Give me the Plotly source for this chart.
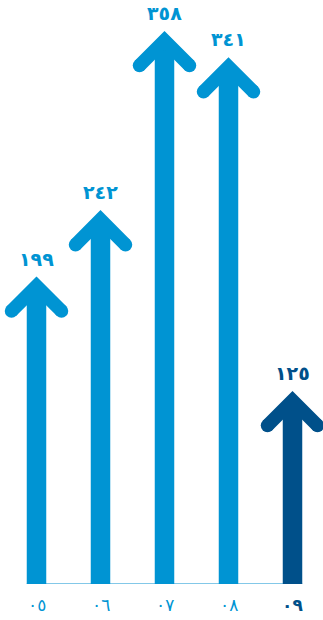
import math
import plotly.graph_objects as go

# ---- data ----
years = ["05", "06", "07", "08", "09"]
values = [199, 242, 358, 341, 125]
bar_colors = ["#0094D3", "#0094D3", "#0094D3", "#0094D3", "#00508A"]
highlight = [False, False, False, False, True]

AR = str.maketrans("0123456789", "٠١٢٣٤٥٦٧٨٩")
year_labels = [y.translate(AR) for y in years]
value_labels = [str(v).translate(AR) for v in values]

# ---- layout geometry (pixels) ----
W, H = 323, 620
BASE_PX = 584          # y pixel of the baseline
PX_PER_UNIT = 1.545    # vertical pixels per value unit
PX_PER_CAT = 64.0      # horizontal pixels per category
FIRST_CX = 36.5        # pixel centre of first arrow

x0 = -FIRST_CX / PX_PER_CAT
x1 = x0 + W / PX_PER_CAT
y_top = BASE_PX / PX_PER_UNIT

def dx(p):
    return p / PX_PER_CAT

def dy(p):  # p pixels downward -> data offset
    return -p / PX_PER_UNIT

SHAFT_W = 19.5
T = 13.5               # arm thickness
h = T / 2
A = 25.0               # horizontal half-extent of arm centre line
r2 = math.sqrt(2)

fig = go.Figure()

xs = list(range(len(values)))
for i, (v, c) in enumerate(zip(values, bar_colors)):
    shaft_top = v + dy(15)
    fig.add_trace(go.Bar(x=[i], y=[shaft_top], width=dx(SHAFT_W),
                         marker=dict(color=c, line=dict(width=0)),
                         hoverinfo="skip", showlegend=False))
    pts = [
        (0, 0),
        (-A - h / r2, h * r2 + A - h / r2),
        (-A + h / r2, h * r2 + A + h / r2),
        (0, 2 * h * r2),
        (A - h / r2, h * r2 + A + h / r2),
        (A + h / r2, h * r2 + A - h / r2),
        (0, 0),
    ]
    fig.add_trace(go.Scatter(
        x=[i + dx(px) for px, py in pts],
        y=[v + dy(py) for px, py in pts],
        mode="lines", fill="toself", fillcolor=c,
        line=dict(width=0, color=c), hoverinfo="skip", showlegend=False))
    fig.add_trace(go.Scatter(
        x=[i + dx(-A), i + dx(A)],
        y=[v + dy(h * r2 + A)] * 2,
        mode="markers", marker=dict(size=T, color=c, line=dict(width=0)),
        cliponaxis=False, hoverinfo="skip", showlegend=False))
    fig.add_annotation(x=i, y=v, xref="x", yref="y", text="<b>" + value_labels[i] + "</b>",
                       showarrow=False, yshift=18, yanchor="middle",
                       font=dict(family="DejaVu Sans", size=19, color=c))
    yl = year_labels[i]
    if highlight[i]:
        yl = "<b>" + yl + "</b>"
    fig.add_annotation(x=i, y=0, xref="x", yref="y", text=yl,
                       showarrow=False, yshift=-21, yanchor="middle",
                       font=dict(family="DejaVu Sans", size=17, color=c))

fig.add_shape(type="line", xref="x", yref="y",
              x0=xs[0] - dx(SHAFT_W / 2), x1=xs[-1] + dx(SHAFT_W / 2),
              y0=0, y1=0, line=dict(color="#5AB6E0", width=1.3), layer="below")

fig.update_layout(
    width=W, height=H,
    margin=dict(l=0, r=0, t=0, b=H - BASE_PX, pad=0),
    paper_bgcolor="white", plot_bgcolor="white",
    barmode="overlay",
    xaxis=dict(range=[x0, x1], visible=False, fixedrange=True),
    yaxis=dict(range=[0, y_top], visible=False, fixedrange=True),
    showlegend=False,
)

fig.write_html(
    "out.html",
    config={"displayModeBar": False},
    post_script="document.body.style.margin='0';document.body.style.overflow='hidden';",
)
